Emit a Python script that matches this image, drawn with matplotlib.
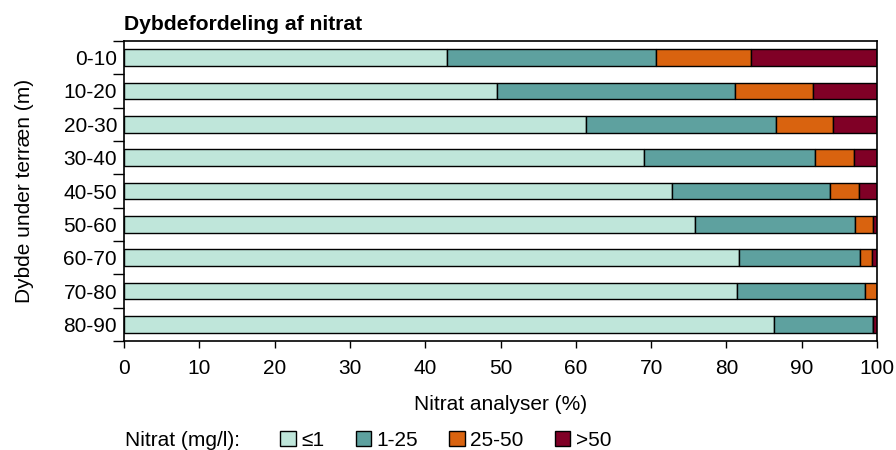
import numpy as np
import matplotlib
matplotlib.use("Agg")
import matplotlib.pyplot as plt
from matplotlib.patches import Patch

plt.rcParams['font.family'] = ['Liberation Sans', 'DejaVu Sans']

# depth intervals (m) and share of nitrate analyses (%) per concentration class
depths = ["0-10", "10-20", "20-30", "30-40", "40-50", "50-60", "60-70", "70-80", "80-90"]
classes = ["≤1", "1-25", "25-50", ">50"]
le1 = [42.9, 49.5, 61.3, 69.1, 72.8, 75.8, 81.7, 81.4, 86.3]
c1_25 = [27.7, 31.7, 25.3, 22.6, 20.9, 21.3, 16.1, 17.0, 13.2]
c25_50 = [12.6, 10.3, 7.6, 5.2, 3.9, 2.4, 1.5, 1.6, 0.0]
gt50 = [16.8, 8.5, 5.8, 3.1, 2.4, 0.5, 0.7, 0.0, 0.5]
colors = ["#bfe6da", "#5ea19f", "#d9630f", "#800026"]

series = [le1, c1_25, c25_50, gt50]

fig = plt.figure(figsize=(8.96, 4.5), dpi=100)
ax = fig.add_axes([0.1384, 0.2422, 0.9788 - 0.1384, 0.9089 - 0.2422])

y = np.arange(len(depths))
left = np.zeros(len(depths))
for vals, col in zip(series, colors):
    vals = np.array(vals)
    ax.barh(y, vals, left=left, height=0.5, color=col, edgecolor="black", linewidth=1.0)
    left += vals

ax.set_xlim(0, 100)
ax.set_ylim(len(depths) - 0.5, -0.5)
ax.set_xticks(np.arange(0, 101, 10))
ax.set_yticks(y)
ax.set_yticklabels(depths)
ax.set_yticks(np.arange(-0.5, len(depths)), minor=True)
ax.tick_params(axis="y", which="major", length=0, pad=5, labelsize=15)
ax.tick_params(axis="y", which="minor", length=8, width=1.0, direction="out")
ax.tick_params(axis="x", length=5, width=1.0, pad=8, labelsize=15)
for s in ax.spines.values():
    s.set_linewidth(1.2)

ax.set_title("Dybdefordeling af nitrat", loc="left", fontsize=15.2, fontweight="bold", pad=8)
ax.set_xlabel("Nitrat analyser (%)", fontsize=15, labelpad=12)
ax.set_ylabel("Dybde under terræn (m)", fontsize=15, labelpad=21)

# legend row at the bottom
fig.text(0.139, 0.022, "Nitrat (mg/l):", fontsize=15, va="center", ha="left")
handles = [Patch(facecolor=c, edgecolor="black", linewidth=1.0) for c in colors]
fig.legend(handles, classes, ncol=4, frameon=False, fontsize=15,
           handlelength=0.75, handleheight=0.75, handletextpad=0.25,
           columnspacing=1.5, borderpad=0, borderaxespad=0,
           loc="center left", bbox_to_anchor=(0.313, 0.022))

fig.savefig("out.png", dpi=100)
